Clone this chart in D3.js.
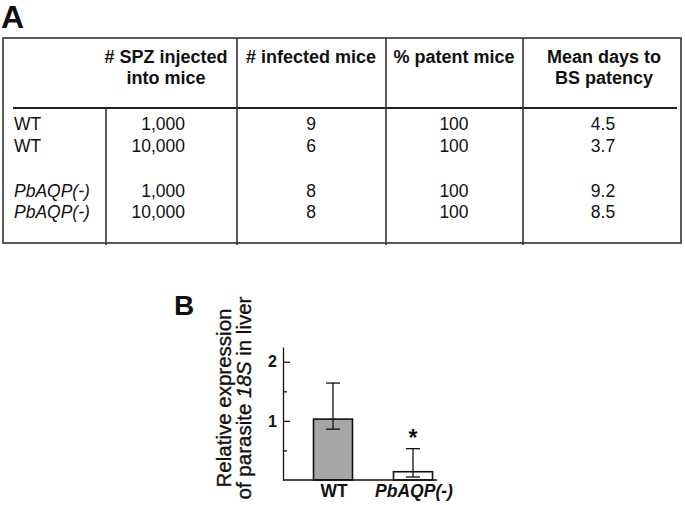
<!DOCTYPE html>
<html>
<head>
<meta charset="utf-8">
<script src="https://cdn.jsdelivr.net/npm/d3@7"></script>
<style>
  html, body { margin: 0; padding: 0; background: #fff; }
  svg { display: block; }
  text { font-family: "Liberation Sans", Arial, sans-serif; fill: #111; }
</style>
</head>
<body>
<svg id="fig" width="685" height="505"></svg>
<script>
// ---------- Data: panel A (table) ----------
const headerLines = [
  ["", ""],
  ["# SPZ injected", "into mice"],
  ["# infected mice", ""],
  ["% patent mice", ""],
  ["Mean days to", "BS patency"]
];
const strains = ["WT", "WT", "PbAQP(-)", "PbAQP(-)"];
const spzInjected = ["1,000", "10,000", "1,000", "10,000"];
const infectedMice = [9, 6, 8, 8];
const patentPct = [100, 100, 100, 100];
const meanDays = ["4.5", "3.7", "9.2", "8.5"];

// ---------- Data: panel B (bar chart) ----------
const categories = ["WT", "PbAQP(-)"];
const meanExpr = [1.03, 0.14];
const errUpper = [1.64, 0.53];
const errLower = [0.86, 0.05];
const significant = [false, true];
const majorTicks = [1, 2];
const minorTicks = [0.5, 1.5];

const svg = d3.select("#fig");
svg.append("rect").attr("width", 685).attr("height", 505).attr("fill", "#fff");

// ---------- Panel A ----------
svg.append("text").attr("x", 1).attr("y", 28)
  .attr("font-size", 32).attr("font-weight", "bold").text("A");

const tbl = svg.append("g");
const lineCol = "#333";
const box = {l: 3, t: 38, r: 681, b: 243};
tbl.append("rect").attr("x", box.l).attr("y", box.t)
  .attr("width", box.r - box.l).attr("height", box.b - box.t)
  .attr("fill", "none").attr("stroke", lineCol).attr("stroke-width", 1.6);
// header separator
tbl.append("line").attr("x1", 13).attr("x2", 677).attr("y1", 108).attr("y2", 108)
  .attr("stroke", "#222").attr("stroke-width", 2.2);
// column dividers
const colEdges = [106, 237, 386, 523];
tbl.selectAll("line.col").data(colEdges).join("line").attr("class", "col")
  .attr("x1", d => d).attr("x2", d => d)
  .attr("y1", (d, i) => i === 0 ? 108 : box.t).attr("y2", 245)
  .attr("stroke", lineCol).attr("stroke-width", 1.6);

// header text
const headerX = [0, 166, 311, 454, 604];
headerLines.forEach((lines, c) => {
  lines.forEach((s, k) => {
    if (!s) return;
    tbl.append("text").attr("x", headerX[c]).attr("y", 63 + k * 21)
      .attr("text-anchor", "middle").attr("font-size", 18).attr("font-weight", "bold")
      .text(s);
  });
});

// rows
const rowY = [130, 152, 197, 218];
const rows = strains.map((s, i) => ({s, spz: spzInjected[i], inf: infectedMice[i], pat: patentPct[i], days: meanDays[i], y: rowY[i]}));
const rg = tbl.selectAll("g.row").data(rows).join("g").attr("class", "row");
rg.append("text").attr("x", 14).attr("y", d => d.y).attr("font-size", 17.5)
  .attr("font-style", d => d.s === "WT" ? "normal" : "italic").text(d => d.s);
rg.append("text").attr("x", 185).attr("y", d => d.y).attr("font-size", 17.5)
  .attr("text-anchor", "end").text(d => d.spz);
rg.append("text").attr("x", 311).attr("y", d => d.y).attr("font-size", 17.5)
  .attr("text-anchor", "middle").text(d => d.inf);
rg.append("text").attr("x", 454).attr("y", d => d.y).attr("font-size", 17.5)
  .attr("text-anchor", "middle").text(d => d.pat);
rg.append("text").attr("x", 603).attr("y", d => d.y).attr("font-size", 17.5)
  .attr("text-anchor", "middle").text(d => d.days);

// ---------- Panel B ----------
svg.append("text").attr("x", 174).attr("y", 315)
  .attr("font-size", 28).attr("font-weight", "bold").text("B");

const y = d3.scaleLinear().domain([0, 2.25]).range([480, 347]);
const x = d3.scaleBand().domain(categories).range([293, 453]).padding(0);
const axisX0 = 283;

const ch = svg.append("g");

// bars
const bw = 39;
const barData = categories.map((c, i) => ({c, m: meanExpr[i], hi: errUpper[i], lo: errLower[i], sig: significant[i]}));
ch.selectAll("rect.bar").data(barData).join("rect").attr("class", "bar")
  .attr("x", d => x(d.c) + x.bandwidth() / 2 - bw / 2)
  .attr("width", bw)
  .attr("y", d => y(d.m))
  .attr("height", d => y(0) - y(d.m))
  .attr("fill", (d, i) => i === 0 ? "#a6a6a6" : "#fff")
  .attr("stroke", "#111").attr("stroke-width", 1.6);

// error bars
const eg = ch.selectAll("g.err").data(barData).join("g").attr("class", "err");
eg.append("line")
  .attr("x1", d => x(d.c) + x.bandwidth() / 2).attr("x2", d => x(d.c) + x.bandwidth() / 2)
  .attr("y1", d => y(d.lo)).attr("y2", d => y(d.hi))
  .attr("stroke", "#111").attr("stroke-width", 1.3);
["hi", "lo"].forEach(k => {
  eg.append("line")
    .attr("x1", d => x(d.c) + x.bandwidth() / 2 - 7).attr("x2", d => x(d.c) + x.bandwidth() / 2 + 7)
    .attr("y1", d => y(d[k])).attr("y2", d => y(d[k]))
    .attr("stroke", "#111").attr("stroke-width", 1.3);
});

// asterisk
ch.selectAll("text.sig").data(barData.filter(d => d.sig)).join("text").attr("class", "sig")
  .attr("x", d => x(d.c) + x.bandwidth() / 2).attr("y", d => y(d.hi) - 3)
  .attr("text-anchor", "middle").attr("font-size", 23).attr("font-weight", "bold").text("*");

// y axis
const yAxis = d3.axisLeft(y).tickValues(majorTicks).tickFormat(d3.format("d"))
  .tickSizeInner(-7).tickSizeOuter(0).tickPadding(6);
const ya = ch.append("g").attr("transform", `translate(${axisX0},0)`).call(yAxis);
ya.attr("font-size", 16).attr("font-family", '"Liberation Sans", Arial, sans-serif');
ya.select(".domain").attr("stroke", "#111").attr("stroke-width", 1.3);
ya.selectAll(".tick line").attr("stroke", "#111").attr("stroke-width", 1.3);
ya.selectAll(".tick text").attr("font-size", 16).attr("font-weight", "bold").attr("fill", "#111");
const yMinor = d3.axisLeft(y).tickValues(minorTicks).tickFormat("").tickSizeInner(-4).tickSizeOuter(0);
const ym = ch.append("g").attr("transform", `translate(${axisX0},0)`).call(yMinor);
ym.select(".domain").remove();
ym.selectAll(".tick line").attr("stroke", "#111").attr("stroke-width", 1.3);

// x axis line
ch.append("line").attr("x1", axisX0).attr("x2", 437).attr("y1", y(0)).attr("y2", y(0))
  .attr("stroke", "#111").attr("stroke-width", 1.6);

// x labels
ch.selectAll("text.xl").data(categories).join("text").attr("class", "xl")
  .attr("x", d => x(d) + x.bandwidth() / 2 + 1).attr("y", 497)
  .attr("text-anchor", "middle").attr("font-size", 17.5).attr("font-weight", "bold")
  .attr("font-style", (d, i) => i === 0 ? "normal" : "italic").text(d => d);

// y label
const yl = ch.append("text").attr("transform", "translate(231,398) rotate(-90)")
  .attr("text-anchor", "middle").attr("font-size", 20.5)
  .attr("stroke", "#111").attr("stroke-width", 0.35);
yl.append("tspan").attr("x", 0).attr("y", 0).text("Relative expression");
const l2 = yl.append("tspan").attr("x", 0).attr("y", 19.5);
l2.append("tspan").text("of parasite ");
l2.append("tspan").attr("font-style", "italic").text("18S");
l2.append("tspan").text(" in liver");
</script>
</body>
</html>
